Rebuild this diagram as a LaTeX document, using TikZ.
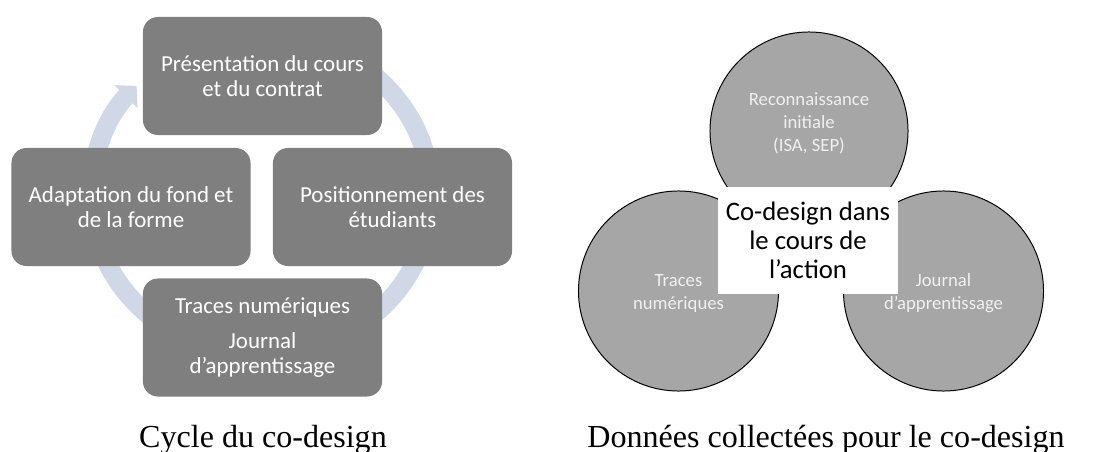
\documentclass[tikz,border=0pt]{standalone}
\usepackage{fontspec}
\setmainfont{Liberation Serif}
\newfontfamily\calib{Carlito}
\usetikzlibrary{arrows.meta}
\definecolor{stagegray}{RGB}{127,127,127}
\definecolor{circlegray}{RGB}{166,166,166}
\definecolor{cyclearc}{RGB}{208,216,232}

\begin{document}
\begin{tikzpicture}[x=0.025cm,y=-0.025cm,
    stage/.style={fill=stagegray,rounded corners=0.375cm,minimum width=5.975cm,minimum height=2.95cm,
      text=white,align=center,font=\calib\fontsize{16.3}{17.8}\selectfont},
    source/.style={circle,draw=black,line width=0.7pt,fill=circlegray,minimum size=5cm,inner sep=0pt},
    sourcetext/.style={text=white!94!black,align=center,font=\calib\fontsize{13.3}{16.4}\selectfont},
    caption/.style={anchor=base,font=\fontsize{22.8}{26}\selectfont}]
  \useasboundingbox (0,0) rectangle (1096,452);

  % cycle du co-design
  \coordinate (hub) at (261,195);
  \draw[cyclearc,line width=0.47cm,-{Triangle[width=0.8cm,length=0.38cm]}]
    (hub) ++(0,-160) arc[start angle=90,end angle=-223,x radius=4.25cm,y radius=4cm];

  \node[stage] (pres) at (262.5,76) {Présentation du cours\\et du contrat};
  \node[stage] (posi) at (392.5,207) {Positionnement des\\étudiants};
  \node[stage] (trac) at (262.5,337.5) {Traces numériques\\[7pt]Journal\\d’apprentissage};
  \node[stage] (adap) at (131,207) {Adaptation du fond et\\de la forme};

  % donnees collectees
  \node[source,minimum size=4.95cm] (reco) at (809,131) {};
  \node[source] (trnu) at (678.5,291) {};
  \node[source] (jour) at (943.5,291) {};
  \node[sourcetext] at (809,123) {Reconnaissance\\initiale\\(ISA, SEP)};
  \node[sourcetext] at (678.5,293.5) {Traces\\numériques};
  \node[sourcetext] at (943.5,293.5) {Journal\\d’apprentissage};
  \node[fill=white,minimum width=4.5cm,minimum height=2.675cm,inner sep=0pt,align=center,
    font=\calib\fontsize{19}{20.6}\selectfont] (codes) at (808,240.5) {Co-design dans\\le cours de\\l’action};

  \node[caption] (cap1) at (263,447) {Cycle du co-design};
  \node[caption] (cap2) at (826,447) {Données collectées pour le co-design};
\end{tikzpicture}
\end{document}
